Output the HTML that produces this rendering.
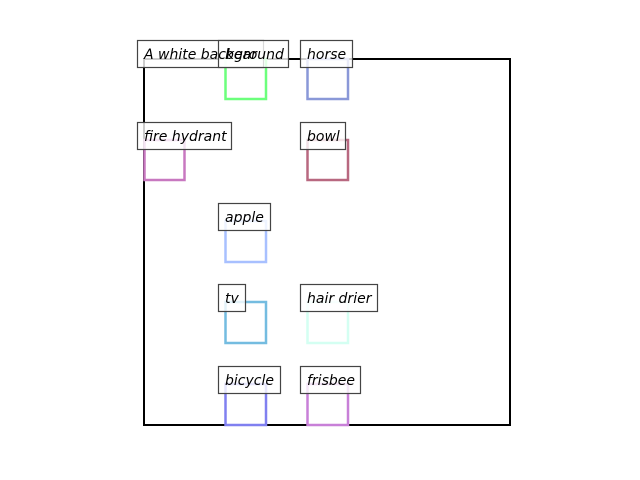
<!DOCTYPE html>
<html><head><style>html,body{margin:0;padding:0;background:#fff}svg{display:block}</style></head>
<body>
<svg width="640" height="480" xmlns="http://www.w3.org/2000/svg" font-family="DejaVu Sans, Liberation Sans, sans-serif" font-size="14" font-style="italic">
<rect x="144" y="59" width="366" height="366" fill="none" stroke="#000" stroke-width="2"/>
<g fill="none" stroke-width="2.5">
<rect x="225.5" y="59" width="40.5" height="40" stroke="#6cff7c"/>
<rect x="307.5" y="59" width="40.5" height="40" stroke="#8a98d8"/>
<rect x="144.5" y="140" width="40" height="40" stroke="#c878c0"/>
<rect x="307.5" y="140" width="40.5" height="40" stroke="#b86880"/>
<rect x="225.5" y="221" width="40.5" height="41" stroke="#a8c0ff"/>
<rect x="225.5" y="302" width="40.5" height="41" stroke="#74bce0"/>
<rect x="307.5" y="302" width="40.5" height="41" stroke="#d4fff2"/>
<rect x="225.5" y="384" width="40.5" height="41" stroke="#8080f0"/>
<rect x="307.5" y="384" width="40.5" height="41" stroke="#c880d8"/>
</g>
<g fill="#fff" fill-opacity="0.8" stroke="#444" stroke-width="1.2">
<rect x="137.5" y="40.5" width="126" height="27"/>
<rect x="218.5" y="40.5" width="70" height="27"/>
<rect x="300.5" y="40.5" width="52" height="27"/>
<rect x="137.5" y="122.5" width="94" height="27"/>
<rect x="300.5" y="122.5" width="45" height="27"/>
<rect x="218.5" y="203.5" width="52" height="27"/>
<rect x="218.5" y="284.5" width="27" height="27"/>
<rect x="300.5" y="284.5" width="77" height="27"/>
<rect x="218.5" y="366.5" width="62" height="27"/>
<rect x="300.5" y="366.5" width="60" height="27"/>
</g>
<g fill="#000">
<text x="144" y="59">A white background</text>
<text x="225" y="59">bear</text>
<text x="307" y="59">horse</text>
<text x="144" y="141">fire hydrant</text>
<text x="307" y="141">bowl</text>
<text x="225" y="222">apple</text>
<text x="225" y="303">tv</text>
<text x="307" y="303">hair drier</text>
<text x="225" y="385">bicycle</text>
<text x="307" y="385">frisbee</text>
</g>
</svg>
</body></html>
